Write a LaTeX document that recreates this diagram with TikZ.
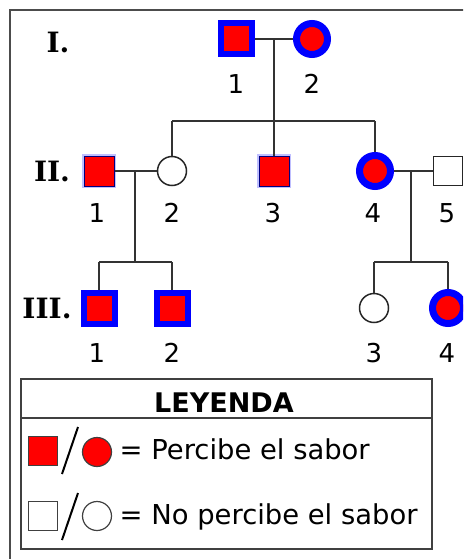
\documentclass[tikz,border=0pt]{standalone}
\usepackage{fontspec}
\setmainfont{DejaVu Sans}
\newfontfamily\romanf{DejaVu Serif}
\begin{document}
\begin{tikzpicture}[x=1pt,y=-1pt,
  conn/.style={draw=black!80, line width=1.8pt},
  affsq/.style={rectangle, fill=red, draw=blue, line width=6pt, minimum size=31pt, inner sep=0pt},
  affci/.style={circle, fill=red, draw=blue, line width=7pt, minimum size=31pt, inner sep=0pt},
  halosq/.style={rectangle, fill=red, draw=blue!50!black, line width=1pt, minimum size=30pt, inner sep=0pt,
     preaction={draw=blue!25, line width=4pt}},
  unci/.style={circle, draw=black!85, line width=1.5pt, fill=white, minimum size=29pt, inner sep=0pt},
  unsq/.style={rectangle, draw=black!85, line width=1.5pt, fill=white, minimum size=29pt, inner sep=0pt},
  num/.style={font=\fontsize{26}{30}\selectfont, inner sep=0pt},
  gen/.style={font=\romanf\bfseries\fontsize{28}{32}\selectfont, inner sep=0pt},
  legsq/.style={rectangle, draw=black!75, line width=1.2pt, minimum size=29pt, inner sep=0pt},
  legci/.style={circle, draw=black!75, line width=1.2pt, minimum size=29pt, inner sep=0pt},
  legtxt/.style={font=\fontsize{27.4}{32}\selectfont, inner sep=0pt, anchor=base west},
  frame/.style={draw=black!70, line width=2pt}]
\useasboundingbox (0,0) rectangle (463,559);
\clip (0,0) rectangle (463,559);
\draw[frame] (10,10) rectangle (490,590);

% generation labels
\node[gen] (gI) at (58,42) {I.};
\node[gen] (gII) at (52,171) {II.};
\node[gen] (gIII) at (47,308) {III.};

% generation I
\node[affsq] (I1) at (236,39) {};
\node[affci] (I2) at (312,39) {};
\node[num] (nI1) at (236,84) {1};
\node[num] (nI2) at (312,84) {2};

% generation II
\node[halosq] (II1) at (99,171) {};
\node[unci] (II2) at (172,171) {};
\node[halosq] (II3) at (274,171) {};
\node[affci] (II4) at (375,171) {};
\node[unsq] (II5) at (448,171) {};
\node[num] (nII1) at (97,213) {1};
\node[num] (nII2) at (172,213) {2};
\node[num] (nII3) at (273,213) {3};
\node[num] (nII4) at (373,213) {4};
\node[num] (nII5) at (447,213) {5};

% generation III
\node[affsq] (III1) at (99,308) {};
\node[affsq] (III2) at (172,308) {};
\node[unci] (III3) at (374,308) {};
\node[affci] (III4) at (448,308) {};
\node[num] (nIII1) at (97,353) {1};
\node[num] (nIII2) at (172,353) {2};
\node[num] (nIII3) at (374,353) {3};
\node[num] (nIII4) at (447,353) {4};

% junction coordinates
\coordinate (m1) at (274,39);
\coordinate (s1) at (274,121);
\coordinate (s1l) at (172,121);
\coordinate (s1r) at (375,121);
\coordinate (m2) at (135,171);
\coordinate (s2) at (135,262);
\coordinate (s2l) at (99,262);
\coordinate (s2r) at (172,262);
\coordinate (m3) at (411,171);
\coordinate (s3) at (411,262);
\coordinate (s3l) at (374,262);
\coordinate (s3r) at (448,262);

% connectors
\draw[conn] (I1) -- (I2);
\draw[conn] (m1) -- (s1);
\draw[conn] (s1l) -- (s1r);
\draw[conn] (s1l) -- (II2);
\draw[conn] (s1) -- (II3);
\draw[conn] (s1r) -- (II4);
\draw[conn] (II1) -- (II2);
\draw[conn] (m2) -- (s2);
\draw[conn] (s2l) -- (s2r);
\draw[conn] (s2l) -- (III1);
\draw[conn] (s2r) -- (III2);
\draw[conn] (II4) -- (II5);
\draw[conn] (m3) -- (s3);
\draw[conn] (s3l) -- (s3r);
\draw[conn] (s3l) -- (III3);
\draw[conn] (s3r) -- (III4);

% legend
\node[draw=black!75, line width=1.5pt, rectangle, minimum width=411pt, minimum height=170pt, inner sep=0pt, anchor=north west] (leg) at (20,378) {};
\draw[draw=black!75, line width=1.5pt] (leg.west |- 0,418) -- (leg.east |- 0,418);
\node[font=\bfseries\fontsize{27}{32}\selectfont, inner sep=0pt] (legt) at (224,403) {LEYENDA};
\node[legsq, fill=red] (lsq1) at (43,451) {};
\node[legci, fill=red] (lci1) at (97,452) {};
\coordinate (sl1a) at (62,474);
\coordinate (sl1b) at (78,427);
\draw[line width=2pt] (sl1a) -- (sl1b);
\node[legtxt] (lt1) at (119.5,459) {= Percibe el sabor};
\node[legsq, fill=white] (lsq2) at (43,516) {};
\node[legci, fill=white] (lci2) at (97,516) {};
\coordinate (sl2a) at (62,540);
\coordinate (sl2b) at (78,493);
\draw[line width=2pt] (sl2a) -- (sl2b);
\node[legtxt] (lt2) at (119.5,524) {= No percibe el sabor};
\end{tikzpicture}
\end{document}
